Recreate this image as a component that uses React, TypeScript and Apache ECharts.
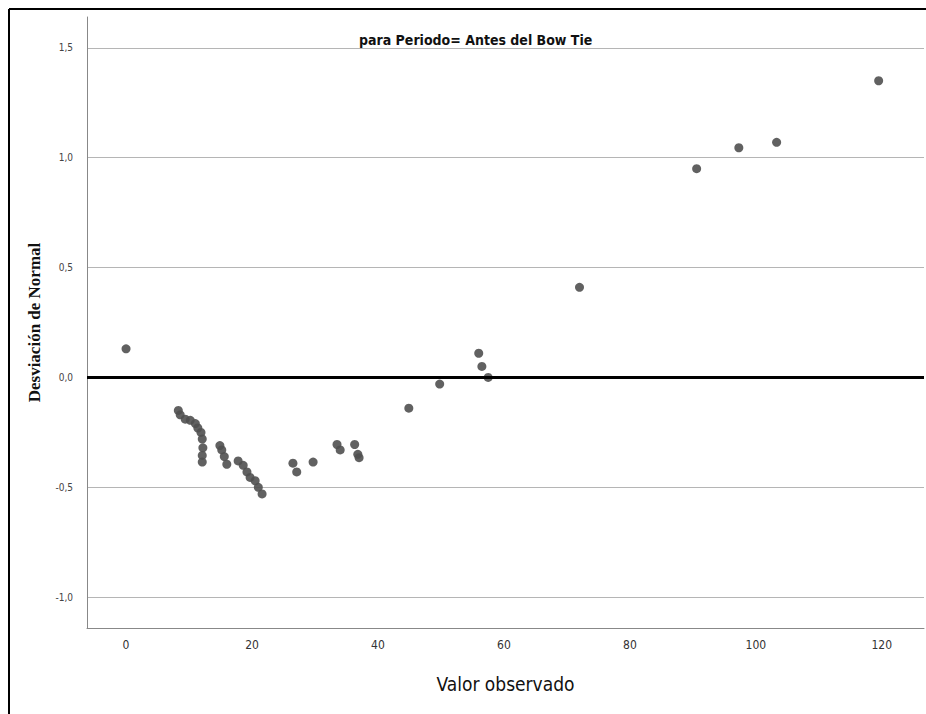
import React, { useEffect, useRef } from "react";
import * as echarts from "echarts";

// Observed value (x) and deviation from normal (y)
const observedValues = [
  0, 8.3, 8.6, 9.4, 10.2, 11, 11.4, 11.9, 12.1, 12.2, 12.1, 12.1,
  14.9, 15.2, 15.6, 16, 17.8, 18.6, 19.2, 19.7, 20.5, 21, 21.6,
  26.5, 27.1, 29.7, 33.5, 34, 36.3, 36.8, 37.0, 44.9, 49.8,
  56, 56.5, 57.5, 72, 90.6, 97.3, 103.3, 119.5,
];
const deviations = [
  0.13, -0.15, -0.17, -0.19, -0.195, -0.21, -0.23, -0.25, -0.28, -0.32, -0.355, -0.385,
  -0.31, -0.33, -0.36, -0.395, -0.38, -0.4, -0.43, -0.455, -0.47, -0.5, -0.53,
  -0.39, -0.43, -0.385, -0.305, -0.33, -0.305, -0.35, -0.365, -0.14, -0.03,
  0.11, 0.05, 0.0, 0.41, 0.95, 1.045, 1.07, 1.35,
];
const titleText = "para Periodo= Antes del Bow Tie";
const xAxisName = "Valor observado";
const yAxisName = "Desviación de Normal";
const xRange = [-6.2, 126.7];
const yRange = [-1.14, 1.64];

const narrow = "'Liberation Sans Narrow', 'DejaVu Sans Condensed', 'Arial Narrow', sans-serif";

export default function App() {
  const ref = useRef<HTMLDivElement>(null);
  useEffect(() => {
    document.body.style.margin = "0";
    if (!ref.current) return;
    const chart = echarts.init(ref.current, undefined, { renderer: "svg" });
    const points = observedValues.map((x, i) => [x, deviations[i]]);
    chart.setOption({
      animation: false,
      backgroundColor: "#ffffff",
      title: {
        text: titleText,
        left: 356,
        top: 32,
        padding: [1, 3],
        backgroundColor: "#ffffff",
        textStyle: { fontFamily: narrow, fontWeight: "bold", fontSize: 14, color: "#111" },
      },
      grid: { left: 87, top: 17, right: 2, bottom: 86, containLabel: false },
      xAxis: {
        type: "value",
        min: xRange[0],
        max: xRange[1],
        splitNumber: 7,
        name: xAxisName,
        nameLocation: "middle",
        nameGap: 46,
        nameTextStyle: { fontFamily: narrow, fontSize: 19, color: "#111" },
        axisLine: { show: true, onZero: false, lineStyle: { color: "#888", width: 1 } },
        axisTick: { show: false },
        splitLine: { show: false },
        axisLabel: {
          showMinLabel: false,
          showMaxLabel: false,
          margin: 11,
          fontFamily: narrow,
          fontSize: 12,
          color: "#333",
          formatter: (v: number) => (Math.abs(v % 20) < 1e-6 ? String(v) : ""),
        },
      },
      yAxis: {
        type: "value",
        min: yRange[0],
        max: yRange[1],
        splitNumber: 5,
        name: yAxisName,
        nameLocation: "middle",
        nameRotate: 90,
        nameGap: 44,
        nameTextStyle: {
          fontFamily: "'Liberation Serif', 'Times New Roman', serif",
          fontWeight: "bold",
          fontSize: 17,
          color: "#111",
        },
        axisLine: { show: true, onZero: false, lineStyle: { color: "#888", width: 1 } },
        axisTick: { show: false },
        splitLine: {
          show: true,
          showMinLine: false,
          showMaxLine: false,
          lineStyle: { color: "#b5b5b5", width: 1 },
        },
        axisLabel: {
          showMinLabel: false,
          showMaxLabel: false,
          margin: 14,
          fontFamily: "'DejaVu Sans Condensed', sans-serif",
          fontSize: 10,
          color: "#444",
          formatter: (v: number) =>
            Math.abs((v * 2) % 1) < 1e-6 ? v.toFixed(1).replace(".", ",") : "",
        },
      },
      graphic: [
        { type: "line", shape: { x1: 9, y1: 9, x2: 926, y2: 9 }, style: { stroke: "#000", lineWidth: 2 } },
        { type: "line", shape: { x1: 9, y1: 9, x2: 9, y2: 714 }, style: { stroke: "#000", lineWidth: 2 } },
      ],
      series: [
        {
          type: "scatter",
          data: points,
          symbol: "circle",
          symbolSize: 9,
          itemStyle: { color: "#505050", opacity: 0.9 },
          markLine: {
            silent: true,
            symbol: ["none", "none"],
            label: { show: false },
            lineStyle: { color: "#000", width: 3, type: "solid" },
            data: [{ yAxis: 0 }],
          },
          z: 3,
        },
      ],
    });
    return () => chart.dispose();
  }, []);
  return <div ref={ref} style={{ width: 926, height: 714 }} />;
}
